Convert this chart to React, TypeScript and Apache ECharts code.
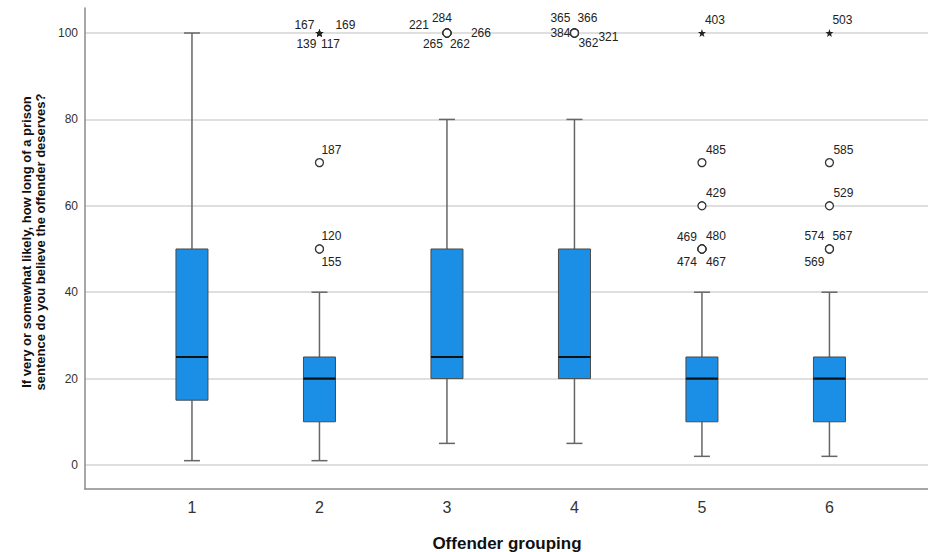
import React, { useEffect, useRef } from "react";
import * as echarts from "echarts";

// Box statistics per offender grouping
const groups = [1, 2, 3, 4, 5, 6];
const mins = [1, 1, 5, 5, 2, 2];
const q1s = [15, 10, 20, 20, 10, 10];
const medians = [25, 20, 25, 25, 20, 20];
const q3s = [50, 25, 50, 50, 25, 25];
const maxs = [100, 40, 80, 80, 40, 40];

// Outliers (circles) and extremes (stars)
const outGroup = [2, 2, 2, 3, 3, 3, 3, 3, 4, 4, 4, 4, 4, 5, 5, 5, 5, 5, 5, 6, 6, 6, 6, 6];
const outValue = [70, 50, 50, 100, 100, 100, 100, 100, 100, 100, 100, 100, 100, 70, 60, 50, 50, 50, 50, 70, 60, 50, 50, 50];
const outId = ["187", "120", "155", "221", "284", "266", "265", "262", "365", "366", "384", "362", "321", "485", "429", "469", "480", "474", "467", "585", "529", "574", "567", "569"];

const extGroup = [2, 2, 2, 2, 5, 6];
const extValue = [100, 100, 100, 100, 100, 100];
const extId = ["167", "169", "139", "117", "403", "503"];

const yTicks = [0, 20, 40, 60, 80, 100];
const xTicks = [1, 2, 3, 4, 5, 6];

// label placement (pixels from marker centre), style only
const outOffsets = [
  [12, -13], [12, -13], [12, 13], [-28, -8], [-5, -15], [34, 0], [-14, 11], [13, 11],
  [-14, -15], [13, -15], [-14, 0], [14, 10], [34, 4],
  [14, -13], [14, -13], [-15, -12], [14, -13], [-15, 13], [14, 13],
  [14, -13], [14, -13], [-15, -13], [13, -13], [-15, 13],
];
const extOffsets = [[-15, -8], [26, -8], [-13, 11], [11, 11], [13, -13], [13, -13]];

const STAR =
  "path://M0,-10 L2.35,-3.24 L9.51,-3.09 L3.8,1.24 L5.88,8.09 L0,4 L-5.88,8.09 L-3.8,1.24 L-9.51,-3.09 L-2.35,-3.24 Z";

const FONT = "Arial, 'Liberation Sans', sans-serif";

export default function App() {
  const ref = useRef<HTMLDivElement>(null);
  useEffect(() => {
    if (!ref.current) return;
    const chart = echarts.init(ref.current, null, { renderer: "svg" });

    const boxData = groups.map((g, i) => [g, mins[i], q1s[i], medians[i], q3s[i], maxs[i]]);

    const labelStyle = (txt: string, off: number[]) => ({
      show: true,
      position: "inside",
      formatter: txt,
      offset: off,
      color: "#222",
      fontSize: 12,
      fontFamily: FONT,
    });

    const option: any = {
      animation: false,
      backgroundColor: "#fff",
      grid: { left: 85, right: 0, top: 8, bottom: 63, containLabel: false },
      xAxis: {
        type: "value",
        min: 0.161,
        max: 6.773,
        splitLine: { show: false },
        axisTick: { show: false, customValues: xTicks },
        axisLine: { show: true, onZero: false, lineStyle: { color: "#8a8a8a", width: 1.5 } },
        axisLabel: {
          customValues: xTicks,
          fontSize: 16,
          color: "#333",
          fontFamily: FONT,
          margin: 10,
        },
      },
      yAxis: {
        type: "value",
        min: -5.56,
        max: 105.79,
        axisTick: { show: false, customValues: yTicks },
        axisLine: { show: true, onZero: false, lineStyle: { color: "#8a8a8a", width: 1.5 } },
        splitLine: { show: true, lineStyle: { color: "#d4d4d4", width: 1.5 } },
        axisLabel: {
          customValues: yTicks,
          fontSize: 12,
          color: "#333",
          fontFamily: FONT,
          margin: 7,
        },
      },
      graphic: [
        {
          type: "text",
          x: 33,
          y: 242,
          rotation: Math.PI / 2,
          style: {
            text: "If very or somewhat likely, how long of a prison\nsentence do you believe the offender deserves?",
            font: "bold 13px " + FONT,
            fill: "#111",
            textAlign: "center",
            textVerticalAlign: "middle",
            lineHeight: 14,
          },
        },
        {
          type: "text",
          x: 507,
          y: 543,
          style: {
            text: "Offender grouping",
            font: "bold 17px " + FONT,
            fill: "#111",
            textAlign: "center",
            textVerticalAlign: "middle",
          },
        },
      ],
      series: [
        {
          type: "custom",
          data: boxData,
          z: 3,
          renderItem: (params: any, api: any) => {
            const x = api.value(0);
            const pMin = api.coord([x, api.value(1)]);
            const pQ1 = api.coord([x, api.value(2)]);
            const pMed = api.coord([x, api.value(3)]);
            const pQ3 = api.coord([x, api.value(4)]);
            const pMax = api.coord([x, api.value(5)]);
            const bh = 16;
            const ch = 8;
            const cx = pMin[0];
            const wStyle = { stroke: "#666", lineWidth: 1.5 };
            return {
              type: "group",
              children: [
                { type: "line", shape: { x1: cx, y1: pMax[1], x2: cx, y2: pQ3[1] }, style: wStyle },
                { type: "line", shape: { x1: cx, y1: pQ1[1], x2: cx, y2: pMin[1] }, style: wStyle },
                { type: "line", shape: { x1: cx - ch, y1: pMax[1], x2: cx + ch, y2: pMax[1] }, style: wStyle },
                { type: "line", shape: { x1: cx - ch, y1: pMin[1], x2: cx + ch, y2: pMin[1] }, style: wStyle },
                {
                  type: "rect",
                  shape: { x: cx - bh, y: pQ3[1], width: 2 * bh, height: pQ1[1] - pQ3[1] },
                  style: { fill: "#1b8fe6", stroke: "#4a4a4a", lineWidth: 1 },
                },
                {
                  type: "line",
                  shape: { x1: cx - bh, y1: pMed[1], x2: cx + bh, y2: pMed[1] },
                  style: { stroke: "#111", lineWidth: 2.2 },
                },
              ],
            };
          },
        },
        {
          type: "scatter",
          z: 4,
          symbol: "circle",
          symbolSize: 8,
          itemStyle: { color: "#ffffff", borderColor: "#333333", borderWidth: 1.3, opacity: 1 },
          data: outGroup.map((g, i) => ({
            value: [g, outValue[i]],
            itemStyle: { color: "#ffffff", borderColor: "#333333", borderWidth: 1.3 },
            label: labelStyle(outId[i], outOffsets[i]),
          })),
        },
        {
          type: "scatter",
          z: 4,
          symbol: STAR,
          symbolSize: 8,
          itemStyle: { color: "#222", opacity: 1 },
          data: extGroup.map((g, i) => ({
            value: [g, extValue[i]],
            label: labelStyle(extId[i], extOffsets[i]),
          })),
        },
      ],
    };
    chart.setOption(option);
    return () => chart.dispose();
  }, []);
  return (
    <div
      ref={ref}
      style={{ position: "fixed", left: 0, top: 0, width: 928, height: 552, background: "#fff" }}
    />
  );
}
